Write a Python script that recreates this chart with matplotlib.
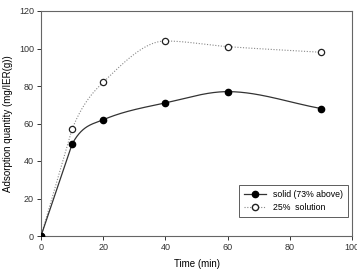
import numpy as np
import matplotlib
matplotlib.use("Agg")
import matplotlib.pyplot as plt
from matplotlib.lines import Line2D

plt.rcParams['font.family'] = ['Liberation Sans', 'DejaVu Sans']

time = [0, 10, 20, 40, 60, 90]
solid = [0, 49, 62, 71, 77, 68]
solution = [0, 57, 82, 104, 101, 98]
labels = ['solid (73% above)', '25%  solution']
xticks = [0, 20, 40, 60, 80, 100]
yticks = [0, 20, 40, 60, 80, 100, 120]


def smooth(x, y, n=400):
    """Curve through the points: first segment straight, the rest Hermite-smoothed."""
    x = np.asarray(x, float); y = np.asarray(y, float)
    h = np.diff(x); d = np.diff(y) / h
    m = np.zeros_like(y)
    for k in range(1, len(x) - 1):
        if d[k-1] * d[k] > 0:
            w1 = 2*h[k] + h[k-1]; w2 = h[k] + 2*h[k-1]
            m[k] = (w1 + w2) / (w1/d[k-1] + w2/d[k])
    m[1] = 0.5 * (d[0] + d[1]); m[-1] = d[-1]
    xs = np.linspace(x[0], x[-1], n); ys = np.empty_like(xs)
    for i, xv in enumerate(xs):
        k = min(np.searchsorted(x, xv, side='right') - 1, len(x) - 2)
        t = (xv - x[k]) / h[k]
        if k == 0:
            ys[i] = y[0] + t * (y[1] - y[0])
            continue
        h00 = 2*t**3 - 3*t**2 + 1; h10 = t**3 - 2*t**2 + t
        h01 = -2*t**3 + 3*t**2; h11 = t**3 - t**2
        ys[i] = h00*y[k] + h10*h[k]*m[k] + h01*y[k+1] + h11*h[k]*m[k+1]
    return xs, ys


fig = plt.figure(figsize=(3.57, 2.70), dpi=100)
ax = fig.add_axes([41/357, 1 - 236/270, (352-41)/357, (236-11)/270])

xs, ys = smooth(time, solution)
ax.plot(xs, ys, color='#888888', lw=0.8, ls=(0, (1, 1.5)))
ax.plot(time, solution, ls='none', marker='o', ms=4.5, mfc='white', mec='#222222', mew=0.9, zorder=3)
xs, ys = smooth(time, solid)
ax.plot(xs, ys, color='#333333', lw=0.9)
ax.plot(time, solid, ls='none', marker='o', ms=4.5, mfc='black', mec='black', zorder=3)

ax.set_xlim(0, 100); ax.set_ylim(0, 120)
ax.set_xticks(xticks); ax.set_yticks(yticks)
ax.tick_params(labelsize=6.5, length=3, width=0.7, colors='#333333', pad=2)
for s in ax.spines.values():
    s.set_color('#666666'); s.set_linewidth(0.8)
ax.set_xlabel('Time (min)', fontsize=7, labelpad=5)
ax.set_ylabel('Adsorption quantity (mg/IER(g))', fontsize=7, labelpad=4)

handles = [Line2D([], [], color='#333333', lw=0.9, marker='o', ms=4.5, mfc='black', mec='black'),
           Line2D([], [], color='#888888', lw=0.8, ls=(0, (1, 1.5)), marker='o', ms=4.5, mfc='white', mec='#222222')]
leg = ax.legend(handles, labels, loc='lower right', bbox_to_anchor=(0.987, 0.084), fontsize=6.3,
                frameon=True, fancybox=False, edgecolor='#333333', handlelength=2.5,
                borderpad=0.6, labelspacing=0.45, borderaxespad=0)
leg.get_frame().set_linewidth(0.7)

fig.savefig('out.png', dpi=100)
